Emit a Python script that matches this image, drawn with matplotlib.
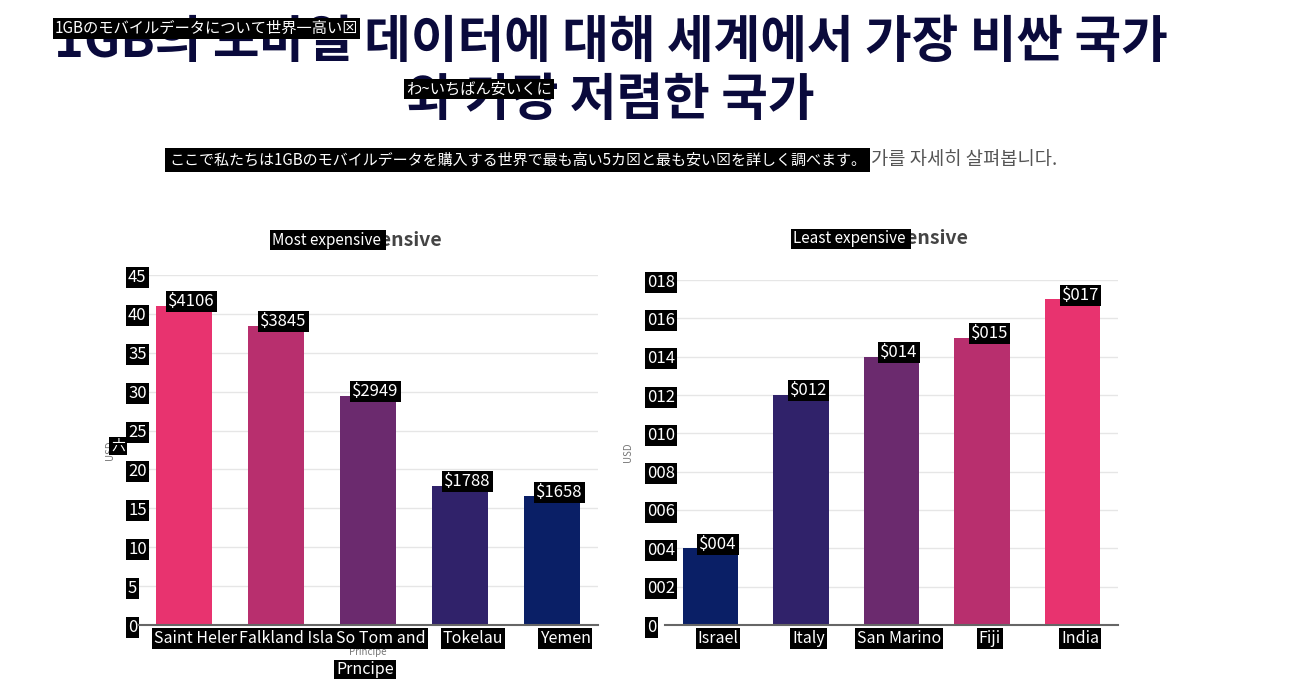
import matplotlib
matplotlib.use('Agg')
import matplotlib.pyplot as plt

plt.rcParams['font.family'] = ['Noto Sans CJK JP', 'DejaVu Sans']

# --- data ---
title_ko = ['1GB의 모바일 데이터에 대해 세계에서 가장 비싼 국가', '와 가장 저렴한 국가']
title_ja = ['1GBのモバイルデータについて世界一高い⊠', 'わ~いちばん安いくに']
subtitle_ko = '여기서 우리는 1GB의 모바일 데이터를 구매하는 세계에서 가장 비싼 5개국과 가장 저렴한 국가를 자세히 살펴봅니다.'
subtitle_ja = 'ここで私たちは1GBのモバイルデータを購入する世界で最も高い5カ⊠と最も安い⊠を詳しく調べます。'

exp_countries = ['Saint Helena', 'Falkland Islands', 'São Tomé and\nPríncipe', 'Tokelau', 'Yemen']
exp_overlay = ['Saint Helen', 'Falkland Islar', 'So Tom and', 'Tokelau', 'Yemen']
exp_values = [41.06, 38.45, 29.49, 17.88, 16.58]
exp_value_labels = ['$4106', '$3845', '$2949', '$1788', '$1658']
exp_colors = ['#e8336f', '#b82f6e', '#6b2a6e', '#30226a', '#0a1f66']
exp_ticks = [0, 5, 10, 15, 20, 25, 30, 35, 40, 45]
exp_tick_labels = ['0', '5', '10', '15', '20', '25', '30', '35', '40', '45']

cheap_countries = ['Israel', 'Italy', 'San Marino', 'Fiji', 'India']
cheap_values = [0.04, 0.12, 0.14, 0.15, 0.17]
cheap_value_labels = ['$004', '$012', '$014', '$015', '$017']
cheap_colors = ['#0a1f66', '#30226a', '#6b2a6e', '#b82f6e', '#e8336f']
cheap_ticks = [0, 0.02, 0.04, 0.06, 0.08, 0.10, 0.12, 0.14, 0.16, 0.18]
cheap_tick_labels = ['0', '002', '004', '006', '008', '010', '012', '014', '016', '018']

W, H = 1307, 679
fig = plt.figure(figsize=(W / 100, H / 100), dpi=100)
fig.patch.set_facecolor('white')

box = dict(boxstyle='square,pad=0.12', fc='black', ec='none')
navy = '#0a0a3c'

# titre principal (coreen) + calques japonais
fig.text(611 / W, 1 - 42 / H, title_ko[0], ha='center', va='center', fontsize=36.5,
         fontweight='bold', color=navy, family='Noto Sans CJK KR')
fig.text(611 / W, 1 - 100 / H, title_ko[1], ha='center', va='center', fontsize=36.5,
         fontweight='bold', color=navy, family='Noto Sans CJK KR')
fig.text(1057 / W, 1 - 159 / H, subtitle_ko, ha='right', va='center', fontsize=13.5,
         color='#555555', family='Noto Sans CJK KR')

fig.text(55 / W, 1 - 28.5 / H, title_ja[0], ha='left', va='center', fontsize=11,
         color='white', bbox=box)
fig.text(406 / W, 1 - 89 / H, title_ja[1], ha='left', va='center', fontsize=11,
         color='white', bbox=box)
fig.text(169 / W, 1 - 160 / H, subtitle_ja, ha='left', va='center', fontsize=10.85,
         color='white', bbox=dict(boxstyle='square,pad=0.25', fc='black', ec='none'))


def panel(rect, names, overlay, values, value_labels, colors, ticks, tick_labels,
          title, title_x, title_y, tick_pad, ylab_x, xoff, name_color):
    ax = fig.add_axes(rect)
    ax.bar(range(len(values)), values, width=0.61, color=colors, zorder=2)
    ax.set_xlim(-0.5, len(values) - 0.5)
    ax.set_ylim(ticks[0], ticks[-1])

    # graduations
    ax.set_yticks(ticks, tick_labels)
    ax.tick_params(axis='y', length=0, pad=tick_pad, labelsize=12, labelcolor='white')
    for lab in ax.get_yticklabels():
        lab.set_ha('left')
        lab.set_bbox(box)
    ax.set_xticks(range(len(names)), names, fontsize=7, color=name_color)
    ax.tick_params(axis='x', length=0, pad=6)

    ax.yaxis.grid(True, color='#e6e6e6', lw=1)
    ax.set_axisbelow(True)
    for s in ['top', 'right', 'left']:
        ax.spines[s].set_visible(False)
    ax.spines['bottom'].set_color('#666666')
    ax.spines['bottom'].set_linewidth(1.5)
    ax.spines['bottom'].set_zorder(3)

    ax.set_ylabel('USD', fontsize=7, color='#777777')
    ax.yaxis.set_label_coords(ylab_x, 0.5)

    # titre du graphique
    ax.text(0.5, title_y, title, transform=ax.transAxes, ha='center', va='center',
            fontsize=14, fontweight='bold', color='#444444')
    ax.text(title_x, title_y, title + ' ', transform=ax.transAxes, ha='left', va='center',
            fontsize=11, color='white', bbox=box)

    # etiquettes des barres
    for i, (v, lbl) in enumerate(zip(values, value_labels)):
        ax.annotate(lbl, (i, v), xytext=(5.5, 2.9), textcoords='offset points',
                    ha='center', va='center', fontsize=12, color='white', bbox=box,
                    zorder=5)

    # etiquettes des pays (calque)
    for i, lbl in enumerate(overlay):
        ax.annotate(lbl, (i, 0), xycoords=('data', 'axes fraction'),
                    xytext=(xoff, -10), textcoords='offset points',
                    ha='center', va='center', fontsize=11.5, color='white',
                    bbox=box, zorder=5, annotation_clip=False)
    return ax


ax1 = panel([138 / W, 54 / H, 460 / W, 350 / H], exp_countries, exp_overlay,
            exp_values, exp_value_labels, exp_colors, exp_ticks, exp_tick_labels,
            'Most expensive', 0.291, 1.1, 7.2, -0.05, 9.4, '#777777')
ax1.annotate('Prncipe', (2, 0), xycoords=('data', 'axes fraction'),
             xytext=(-2, -32.4), textcoords='offset points', ha='center', va='center',
             fontsize=11.5, color='white', bbox=box, zorder=5, annotation_clip=False)
ax1.text(-0.0435, 0.511, '六', transform=ax1.transAxes, ha='center', va='center',
         fontsize=10, color='white', bbox=box)

ax2 = panel([665 / W, 54 / H, 453 / W, 345 / H], cheap_countries, cheap_countries,
            cheap_values, cheap_value_labels, cheap_colors, cheap_ticks,
            cheap_tick_labels, 'Least expensive', 0.283, 1.119, 13, -0.0706, 5.5, 'none')

fig.savefig('out.png', dpi=100)
